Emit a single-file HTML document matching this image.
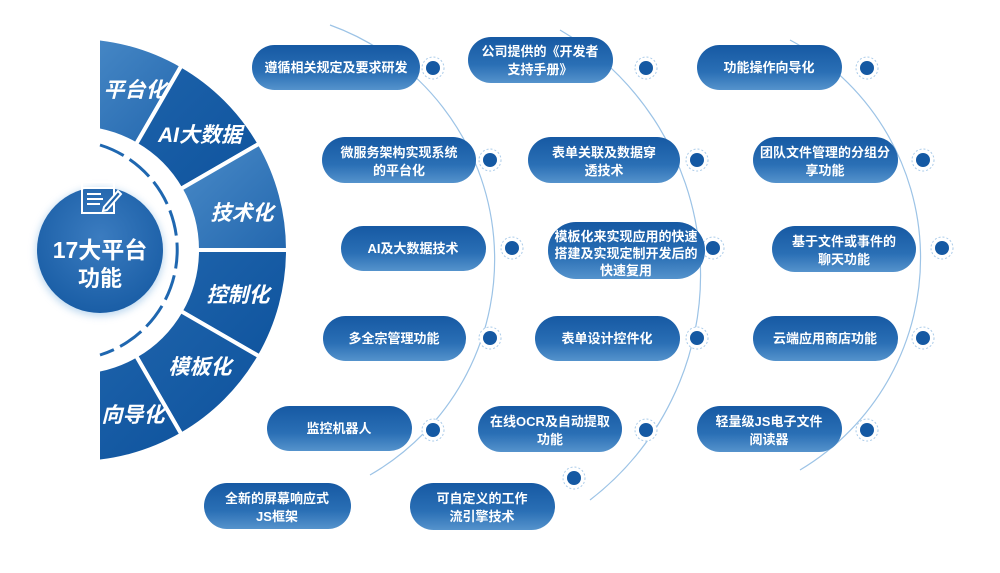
<!DOCTYPE html>
<html><head><meta charset="utf-8"><style>
html,body{margin:0;padding:0;background:#fff;}
svg{display:block;}
text{font-family:"Liberation Sans","Noto Sans CJK SC",sans-serif;}
</style></head><body>
<svg width="1000" height="573" viewBox="0 0 1000 573" xmlns="http://www.w3.org/2000/svg">
<defs>
<linearGradient id="pg" x1="0" y1="0" x2="0" y2="1">
<stop offset="0" stop-color="#1659a3"/><stop offset="0.6" stop-color="#2a6fb5"/><stop offset="1" stop-color="#5593cc"/>
</linearGradient>
<radialGradient id="cg" cx="0.5" cy="0.4" r="0.6">
<stop offset="0" stop-color="#3b7cc0"/><stop offset="1" stop-color="#1a5ea6"/>
</radialGradient>
<linearGradient id="sl" x1="0" y1="0" x2="1" y2="1">
<stop offset="0" stop-color="#4a8bc8"/><stop offset="1" stop-color="#2367ae"/>
</linearGradient>
<linearGradient id="sd" x1="0" y1="0" x2="1" y2="1">
<stop offset="0" stop-color="#1d62aa"/><stop offset="1" stop-color="#0f549e"/>
</linearGradient>
<clipPath id="cl"><rect x="100" y="0" width="300" height="573"/></clipPath>
<filter id="sh" x="-30%" y="-30%" width="160%" height="160%"><feGaussianBlur stdDeviation="4"/></filter>
</defs>

<!-- arcs -->
<g fill="none" stroke="#9cc3e6" stroke-width="1.2">
<path d="M330 25 A249 249 0 0 1 370 475"/>
<path d="M560 30 A284 284 0 0 1 590 500"/>
<path d="M790 40 A247 247 0 0 1 800 470"/>
</g>

<!-- semicircle segments -->
<g clip-path="url(#cl)" stroke="#fff" stroke-width="4">
<path d="M75 37 A213 213 0 0 1 181.5 65.5 L136 144.3 A122 122 0 0 0 75 128Z" fill="url(#sl)"/>
<path d="M181.5 65.5 A213 213 0 0 1 259.5 143.5 L180.7 189 A122 122 0 0 0 136 144.3Z" fill="url(#sd)"/>
<path d="M259.5 143.5 A213 213 0 0 1 288 250 L197 250 A122 122 0 0 0 180.7 189Z" fill="url(#sl)"/>
<path d="M288 250 A213 213 0 0 1 259.5 356.5 L180.7 311 A122 122 0 0 0 197 250Z" fill="url(#sd)"/>
<path d="M259.5 356.5 A213 213 0 0 1 181.5 434.5 L136 355.7 A122 122 0 0 0 180.7 311Z" fill="url(#sd)"/>
<path d="M181.5 434.5 A213 213 0 0 1 75 463 L75 372 A122 122 0 0 0 136 355.7Z" fill="url(#sd)"/>
</g>
<g fill="#fff" font-size="21" font-weight="bold" font-style="italic" text-anchor="middle">
<text x="135" y="97">平台化</text>
<text x="200" y="142">AI大数据</text>
<text x="242" y="220">技术化</text>
<text x="238" y="302">控制化</text>
<text x="200" y="374">模板化</text>
<text x="133" y="422">向导化</text>
</g>

<!-- dashed inner arc -->
<path d="M100 145 A110 110 0 0 1 100 355" fill="none" stroke="#1f67b0" stroke-width="3" stroke-dasharray="26 7"/>

<!-- center circle -->
<circle cx="100" cy="252" r="64" fill="#9fc6e8" filter="url(#sh)" opacity="0.7"/>
<circle cx="100" cy="250" r="63" fill="url(#cg)"/>
<g stroke="#fff" fill="none" stroke-width="2">
<rect x="82" y="182" width="32" height="31"/>
<line x1="82" y1="188" x2="114" y2="188"/>
<line x1="87" y1="194" x2="101" y2="194"/><line x1="87" y1="199" x2="103" y2="199"/><line x1="87" y1="204" x2="100" y2="204"/>
<path d="M104 207 L118 191 L121 194 L107 210 L103 211Z" fill="#1f63aa"/>
</g>
<g fill="#fff" font-weight="bold" text-anchor="middle">
<text x="100" y="258" font-size="23">17大平台</text>
<text x="100" y="286" font-size="22">功能</text>
</g>

<!-- dots -->
<g>
<g fill="#fff" stroke="#aacbe9" stroke-width="1" stroke-dasharray="2 2">
<circle cx="433" cy="68" r="11"/><circle cx="490" cy="160" r="11"/><circle cx="512" cy="248" r="11"/><circle cx="490" cy="338" r="11"/><circle cx="433" cy="430" r="11"/>
<circle cx="646" cy="68" r="11"/><circle cx="697" cy="160" r="11"/><circle cx="713" cy="248" r="11"/><circle cx="697" cy="338" r="11"/><circle cx="646" cy="430" r="11"/><circle cx="574" cy="478" r="11"/>
<circle cx="867" cy="68" r="11"/><circle cx="923" cy="160" r="11"/><circle cx="942" cy="248" r="11"/><circle cx="923" cy="338" r="11"/><circle cx="867" cy="430" r="11"/>
</g>
<g fill="#1559a3">
<circle cx="433" cy="68" r="7"/><circle cx="490" cy="160" r="7"/><circle cx="512" cy="248" r="7"/><circle cx="490" cy="338" r="7"/><circle cx="433" cy="430" r="7"/>
<circle cx="646" cy="68" r="7"/><circle cx="697" cy="160" r="7"/><circle cx="713" cy="248" r="7"/><circle cx="697" cy="338" r="7"/><circle cx="646" cy="430" r="7"/><circle cx="574" cy="478" r="7"/>
<circle cx="867" cy="68" r="7"/><circle cx="923" cy="160" r="7"/><circle cx="942" cy="248" r="7"/><circle cx="923" cy="338" r="7"/><circle cx="867" cy="430" r="7"/>
</g>
</g>

<!-- pills -->
<g fill="url(#pg)">
<rect x="252" y="45" width="168" height="45" rx="22.5"/>
<rect x="322" y="137" width="154" height="46" rx="23"/>
<rect x="341" y="226" width="145" height="45" rx="22.5"/>
<rect x="323" y="316" width="143" height="45" rx="22.5"/>
<rect x="267" y="406" width="145" height="45" rx="22.5"/>
<rect x="204" y="483" width="147" height="46" rx="23"/>
<rect x="468" y="37" width="145" height="46" rx="23"/>
<rect x="528" y="137" width="152" height="46" rx="23"/>
<rect x="548" y="222" width="157" height="57" rx="28"/>
<rect x="535" y="316" width="145" height="45" rx="22.5"/>
<rect x="478" y="406" width="144" height="46" rx="23"/>
<rect x="410" y="483" width="145" height="47" rx="23.5"/>
<rect x="697" y="45" width="145" height="45" rx="22.5"/>
<rect x="753" y="137" width="145" height="46" rx="23"/>
<rect x="772" y="226" width="144" height="46" rx="23"/>
<rect x="753" y="316" width="145" height="45" rx="22.5"/>
<rect x="697" y="406" width="145" height="46" rx="23"/>
</g>
<g fill="#fff" font-size="13" font-weight="bold" text-anchor="middle">
<text x="336" y="72">遵循相关规定及要求研发</text>
<text x="399" y="157">微服务架构实现系统</text><text x="399" y="175">的平台化</text>
<text x="413" y="253">AI及大数据技术</text>
<text x="394" y="343">多全宗管理功能</text>
<text x="339" y="433">监控机器人</text>
<text x="277" y="503">全新的屏幕响应式</text><text x="277" y="521">JS框架</text>
<text x="540" y="56">公司提供的《开发者</text><text x="540" y="74">支持手册》</text>
<text x="604" y="157">表单关联及数据穿</text><text x="604" y="175">透技术</text>
<text x="626" y="241">模板化来实现应用的快速</text><text x="626" y="258">搭建及实现定制开发后的</text><text x="626" y="275">快速复用</text>
<text x="607" y="343">表单设计控件化</text>
<text x="550" y="426">在线OCR及自动提取</text><text x="550" y="444">功能</text>
<text x="482" y="503">可自定义的工作</text><text x="482" y="521">流引擎技术</text>
<text x="769" y="72">功能操作向导化</text>
<text x="825" y="157">团队文件管理的分组分</text><text x="825" y="175">享功能</text>
<text x="844" y="246">基于文件或事件的</text><text x="844" y="264">聊天功能</text>
<text x="825" y="343">云端应用商店功能</text>
<text x="769" y="426">轻量级JS电子文件</text><text x="769" y="444">阅读器</text>
</g>
</svg>
</body></html>
